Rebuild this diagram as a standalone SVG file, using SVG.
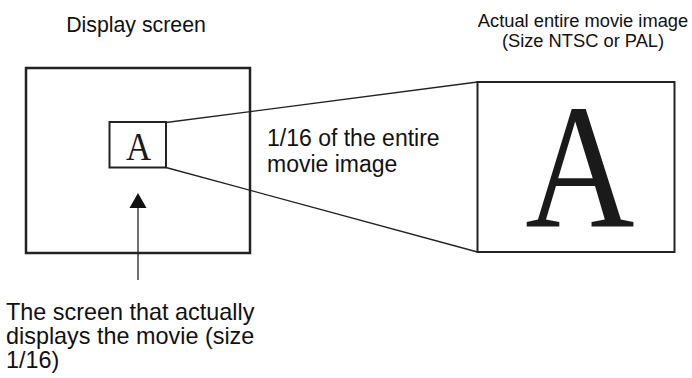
<svg xmlns="http://www.w3.org/2000/svg" width="692" height="378" viewBox="0 0 692 378">
<style>
.t{font-family:"Liberation Sans",Arial,sans-serif;fill:#111;}
.s{font-family:"Liberation Serif","Times New Roman",serif;fill:#1a1a1a;}
.box{fill:#fff;stroke:#222;}
.ln{stroke:#222;stroke-width:1.3;fill:none;}
</style>
<rect width="692" height="378" fill="#fff"/>
<g id="display-screen">
<rect class="box" x="26" y="68" width="224" height="185" stroke-width="2.5"/>
<text class="t" x="136" y="32" font-size="21.3" text-anchor="middle">Display screen</text>
</g>
<g id="small-image">
<rect class="box" x="109.5" y="122" width="56.5" height="45.5" stroke-width="2"/>
<text class="s" transform="translate(138.5,160) scale(0.85,1)" font-size="41" text-anchor="middle">A</text>
</g>
<g id="movie-image">
<rect class="box" x="477.5" y="82" width="197" height="170" stroke-width="2"/>
<text class="s" transform="translate(580,227) scale(0.85,1)" font-size="178" text-anchor="middle">A</text>
<text class="t" x="583" y="27" font-size="18.3" text-anchor="middle">Actual entire movie image</text>
<text class="t" x="583" y="47" font-size="18.3" text-anchor="middle">(Size NTSC or PAL)</text>
</g>
<g id="label-fraction">
<text class="t" x="267" y="146" font-size="23">1/16 of the entire</text>
<text class="t" x="267" y="172" font-size="23">movie image</text>
</g>
<g id="label-screen">
<text class="t" x="6" y="320" font-size="23.4">The screen that actually</text>
<text class="t" x="6" y="344" font-size="23.4">displays the movie (size</text>
<text class="t" x="6" y="368" font-size="23.4">1/16)</text>
</g>
<g id="connectors">
<line class="ln" x1="166" y1="122.5" x2="477.5" y2="82"/>
<line class="ln" x1="166" y1="167.5" x2="477.5" y2="252"/>
<line class="ln" x1="138" y1="206" x2="138" y2="280"/>
<polygon points="138,193 129.5,208 146.5,208" fill="#111"/>
</g>
</svg>
